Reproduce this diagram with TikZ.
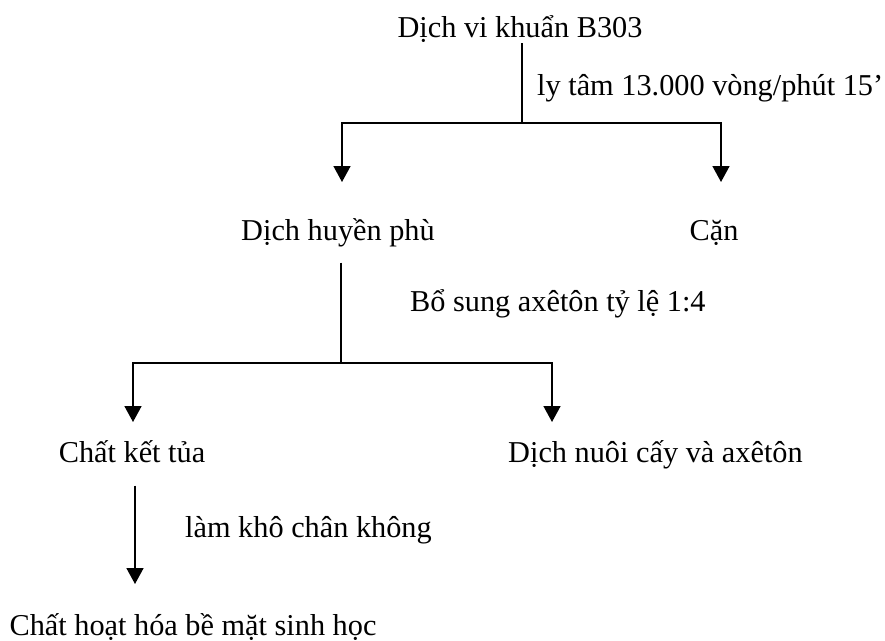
\documentclass[tikz,border=0pt]{standalone}
\usepackage{fontspec}
\setmainfont{Liberation Serif}
\usetikzlibrary{arrows.meta,calc}
\begin{document}
\begin{tikzpicture}[x=1pt,y=-1pt,
  lbl/.style={inner sep=0pt,anchor=base,font=\fontsize{30.3}{35}\selectfont},
  stem/.style={line width=1.2pt},
  arr/.style={line width=1.6pt,-{Triangle[width=17pt,length=16pt]}}]
\useasboundingbox (0,0) rectangle (885,640);
% texts
\node[lbl] (top) at (520,37) {Dịch vi khuẩn B303};
\node[lbl,anchor=base west] (ly) at (537,95) {ly tâm 13.000 vòng/phút 15’};
\node[lbl] (huyen) at (338,240) {Dịch huyền phù};
\node[lbl] (can) at (714,240) {Cặn};
\node[lbl,anchor=base west] (bosung) at (410,311) {Bổ sung axêtôn tỷ lệ 1:4};
\node[lbl] (ketua) at (132,462) {Chất kết tủa};
\node[lbl,anchor=base west] (nuoi) at (508,462) {Dịch nuôi cấy và axêtôn};
\node[lbl,anchor=base west] (lamkho) at (185,537) {làm khô chân không};
\node[lbl] (hoat) at (193,635) {Chất hoạt hóa bề mặt sinh học};
% junctions and ends
\coordinate (j1) at (522,123);
\coordinate (j2) at (341,363);
\coordinate (s3) at (135,485);
\coordinate (t1) at (342,182);
\coordinate (t2) at (721,182);
\coordinate (t3) at (133,422);
\coordinate (t4) at (552,422);
\coordinate (t5) at (135,584);
% connectors
\draw[stem] (j1 |- top.south) ++(0,1) -- (j1);
\draw[arr] (j1) -| (t1);
\draw[arr] (j1) -| (t2);
\draw[stem] (j2 |- huyen.south) ++(0,16) -- (j2);
\draw[arr] (j2) -| (t3);
\draw[arr] (j2) -| (t4);
\draw[arr] (s3 |- ketua.south) ++(0,23) -- (t5);
\end{tikzpicture}
\end{document}
